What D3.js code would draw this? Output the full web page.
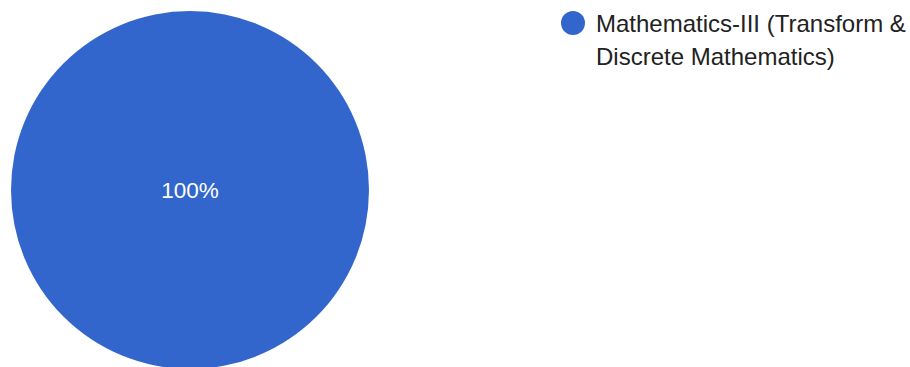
<!DOCTYPE html>
<html><head><meta charset="utf-8">
<script src="https://cdn.jsdelivr.net/npm/d3@7"></script>
<style>html,body{margin:0;padding:0;background:#fff;}svg{display:block;}</style>
</head><body>
<svg id="c" width="910" height="367"></svg>
<script>
const categories = ["Mathematics-III (Transform & Discrete Mathematics)"];
const legendLines = [["Mathematics-III (Transform &", "Discrete Mathematics)"]];
const values = [1];
const colors = ["#3366cc"];

const svg = d3.select("#c");
const font = "Arial, 'Liberation Sans', sans-serif";
const cx = 190, cy = 190, r = 179;
const pie = d3.pie().sort(null)(values);
const arc = d3.arc().innerRadius(0).outerRadius(r);
const total = d3.sum(values);
const g = svg.append("g").attr("transform", `translate(${cx},${cy})`);
g.selectAll("path").data(pie).join("path")
  .attr("d", arc).attr("fill", (d,i) => colors[i]);
g.selectAll("text").data(pie).join("text")
  .attr("transform", d => values.length === 1 ? "translate(0,0)" : `translate(${d3.arc().innerRadius(r*0.6).outerRadius(r*0.6).centroid(d)})`)
  .attr("text-anchor", "middle").attr("y", 8.3)
  .attr("fill", "#fff").attr("font-family", font).attr("font-size", 22.5)
  .text(d => d3.format(".0%")(d.value / total));

const lg = svg.append("g");
categories.forEach((c, i) => {
  lg.append("circle").attr("cx", 573).attr("cy", 23).attr("r", 12).attr("fill", colors[i]);
  const t = lg.append("text").attr("font-family", font).attr("font-size", 24).attr("fill", "#222");
  legendLines[i].forEach((ln, j) => {
    t.append("tspan").attr("x", 596).attr("y", 31.5 + j * 33.3).text(ln);
  });
});
</script>
</body></html>
